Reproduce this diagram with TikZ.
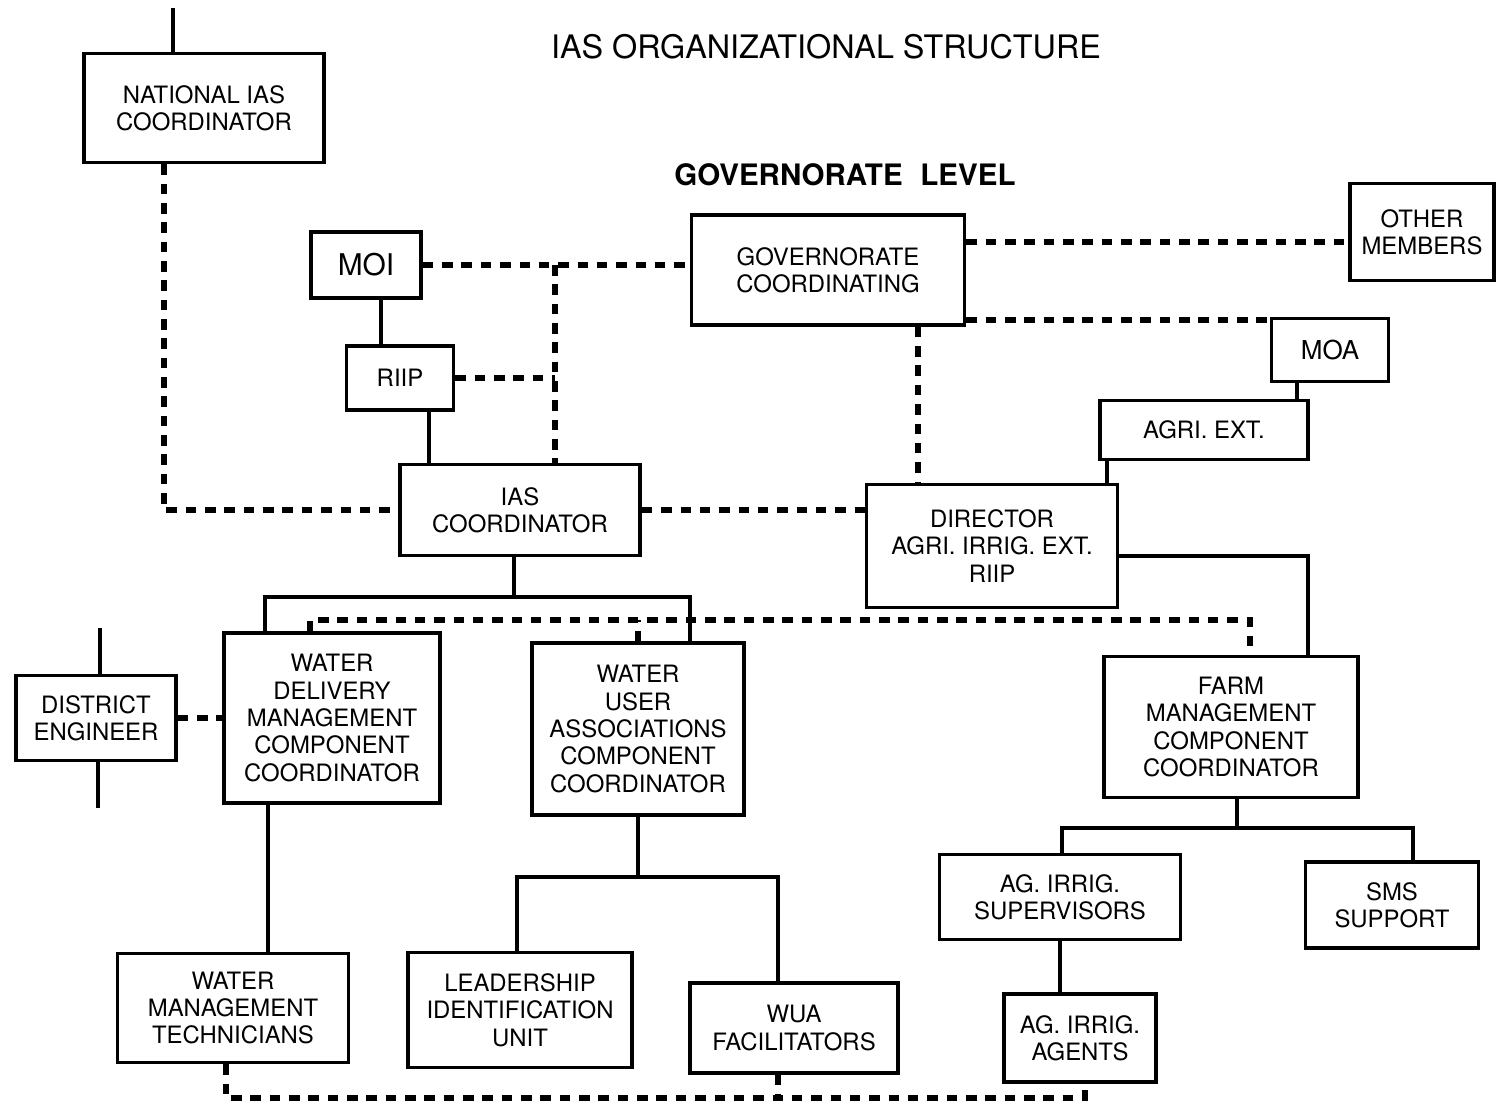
\documentclass[tikz,border=0pt]{standalone}
\usepackage{fontspec}
\setmainfont{TeX Gyre Heros}
\newcommand\boxfont{\fontsize{6.8}{7.8}\selectfont}
\begin{document}
\begin{tikzpicture}[x=0.01cm, y=-0.01cm,
    unit/.style ={draw, line width=1pt, align=center, font=\boxfont, inner sep=1pt},
    tie/.style ={line width=1.2pt},
    link/.style ={line width=1.7pt, dash pattern=on 3pt off 2.5pt}]
   \useasboundingbox (0,0) rectangle (1496,1114);

   \node[font=\fontsize{9.2}{11}\selectfont] (title) at (826,47) {IAS ORGANIZATIONAL STRUCTURE};
   \node[font=\bfseries\fontsize{8.4}{10}\selectfont] (level) at (845,175) {GOVERNORATE\hspace{0.6em}LEVEL};

   \node[unit, minimum width=2.40cm, minimum height=1.09cm] (nat) at (204,108) {NATIONAL IAS\\COORDINATOR};
   \node[unit, minimum width=1.10cm, minimum height=0.66cm, font=\fontsize{8.5}{10}\selectfont] (moi) at (366,265) {MOI};
   \node[unit, minimum width=1.07cm, minimum height=0.64cm] (riip) at (400,378) {RIIP};
   \node[unit, minimum width=2.73cm, minimum height=1.10cm] (gov) at (828,270) {GOVERNORATE\\COORDINATING};
   \node[unit, minimum width=1.44cm, minimum height=0.97cm] (other) at (1422,232) {OTHER\\MEMBERS};
   \node[unit, minimum width=1.17cm, minimum height=0.63cm, font=\fontsize{7.4}{9}\selectfont] (moa) at (1330,350) {MOA};
   \node[unit, minimum width=2.08cm, minimum height=0.59cm] (ext) at (1204,430) {AGRI. EXT.};
   \node[unit, minimum width=2.40cm, minimum height=0.91cm] (ias) at (520,510) {IAS\\COORDINATOR};
   \node[unit, minimum width=2.51cm, minimum height=1.23cm] (dir) at (992,546) {DIRECTOR\\AGRI. IRRIG. EXT.\\RIIP};
   \node[unit, minimum width=1.60cm, minimum height=0.85cm] (eng) at (96,718) {DISTRICT\\ENGINEER};
   \node[unit, minimum width=2.16cm, minimum height=1.70cm] (wdm) at (332,718) {WATER\\DELIVERY\\MANAGEMENT\\COMPONENT\\COORDINATOR};
   \node[unit, minimum width=2.12cm, minimum height=1.72cm] (wua) at (638,729) {WATER\\USER\\ASSOCIATIONS\\COMPONENT\\COORDINATOR};
   \node[unit, minimum width=2.54cm, minimum height=1.41cm] (farm) at (1231,727) {FARM\\MANAGEMENT\\COMPONENT\\COORDINATOR};
   \node[unit, minimum width=2.41cm, minimum height=0.85cm] (sup) at (1060,897) {AG. IRRIG.\\SUPERVISORS};
   \node[unit, minimum width=1.73cm, minimum height=0.86cm] (sms) at (1392,905) {SMS\\SUPPORT};
   \node[unit, minimum width=2.31cm, minimum height=1.09cm] (tech) at (233,1008) {WATER\\MANAGEMENT\\TECHNICIANS};
   \node[unit, minimum width=2.24cm, minimum height=1.15cm] (lead) at (520,1010) {LEADERSHIP\\IDENTIFICATION\\UNIT};
   \node[unit, minimum width=2.08cm, minimum height=0.90cm] (fac) at (794,1028) {WUA\\FACILITATORS};
   \node[unit, minimum width=1.52cm, minimum height=0.88cm] (agents) at (1080,1038) {AG. IRRIG.\\AGENTS};

   \coordinate (natup) at (173,8);
   \coordinate (engup) at (100,628);
   \coordinate (engdown) at (98,808);
   \coordinate (j1) at (555,265);

   \draw[tie] (nat.north -| natup) to (natup);
   \draw[tie] (eng.north -| engup) to (engup);
   \draw[tie] (eng.south -| engdown) to (engdown);
   \draw[tie] (moi.south -| 381,0) to (riip.north -| 381,0);
   \draw[tie] (riip.south -| 429,0) to (ias.north -| 429,0);
   \draw[tie] (moa.south -| 1297,0) to (ext.north -| 1297,0);
   \draw[tie] (ext.south -| 1107,0) to (dir.north -| 1107,0);
   \draw[tie] (dir.east |- 0,556) -| (farm.north -| 1308,0);
   \draw[tie] (ias.south -| 514,0) to (514,597);
   \draw[tie] (wdm.north -| 265,0) |- (690,597) -- (wua.north -| 690,0);
   \draw[tie] (wdm.south -| 268,0) to (tech.north -| 268,0);
   \draw[tie] (wua.south) to (638,877);
   \draw[tie] (lead.north -| 517,0) |- (778,877) -- (fac.north -| 778,0);
   \draw[tie] (farm.south -| 1237,0) to (1237,828);
   \draw[tie] (sup.north -| 1062,0) |- (1413,828) -- (sms.north -| 1413,0);
   \draw[tie] (sup.south) to (agents.north -| sup.south);

   \draw[link] (nat.south -| 164,0) |- (ias.west);
   \draw[link] (moi.east) to (moi.east -| gov.west);
   \draw[link] (j1) to (ias.north -| j1);
   \draw[link] (riip.east) to (riip.east -| j1);
   \draw[link] (gov.east |- 0,242) to (other.west |- 0,242);
   \draw[link] (gov.east |- 0,320) to (moa.west |- 0,320);
   \draw[link] (gov.south -| 918,0) to (dir.north -| 918,0);
   \draw[link] (ias.east) to (dir.west |- ias.east);
   \draw[link] (eng.east) to (wdm.west |- eng.east);
   \draw[link] (wdm.north -| 310,0) |- (1250,620) -- (farm.north -| 1250,0);
   \draw[link] (wua.north) to (wua.north |- 0,620);
   \draw[link] (tech.south -| 226,0) |- (1085,1098) -- (agents.south -| 1085,0);
   \draw[link] (fac.south -| 778,0) to (778,1098);
 \end{tikzpicture}
\end{document}
